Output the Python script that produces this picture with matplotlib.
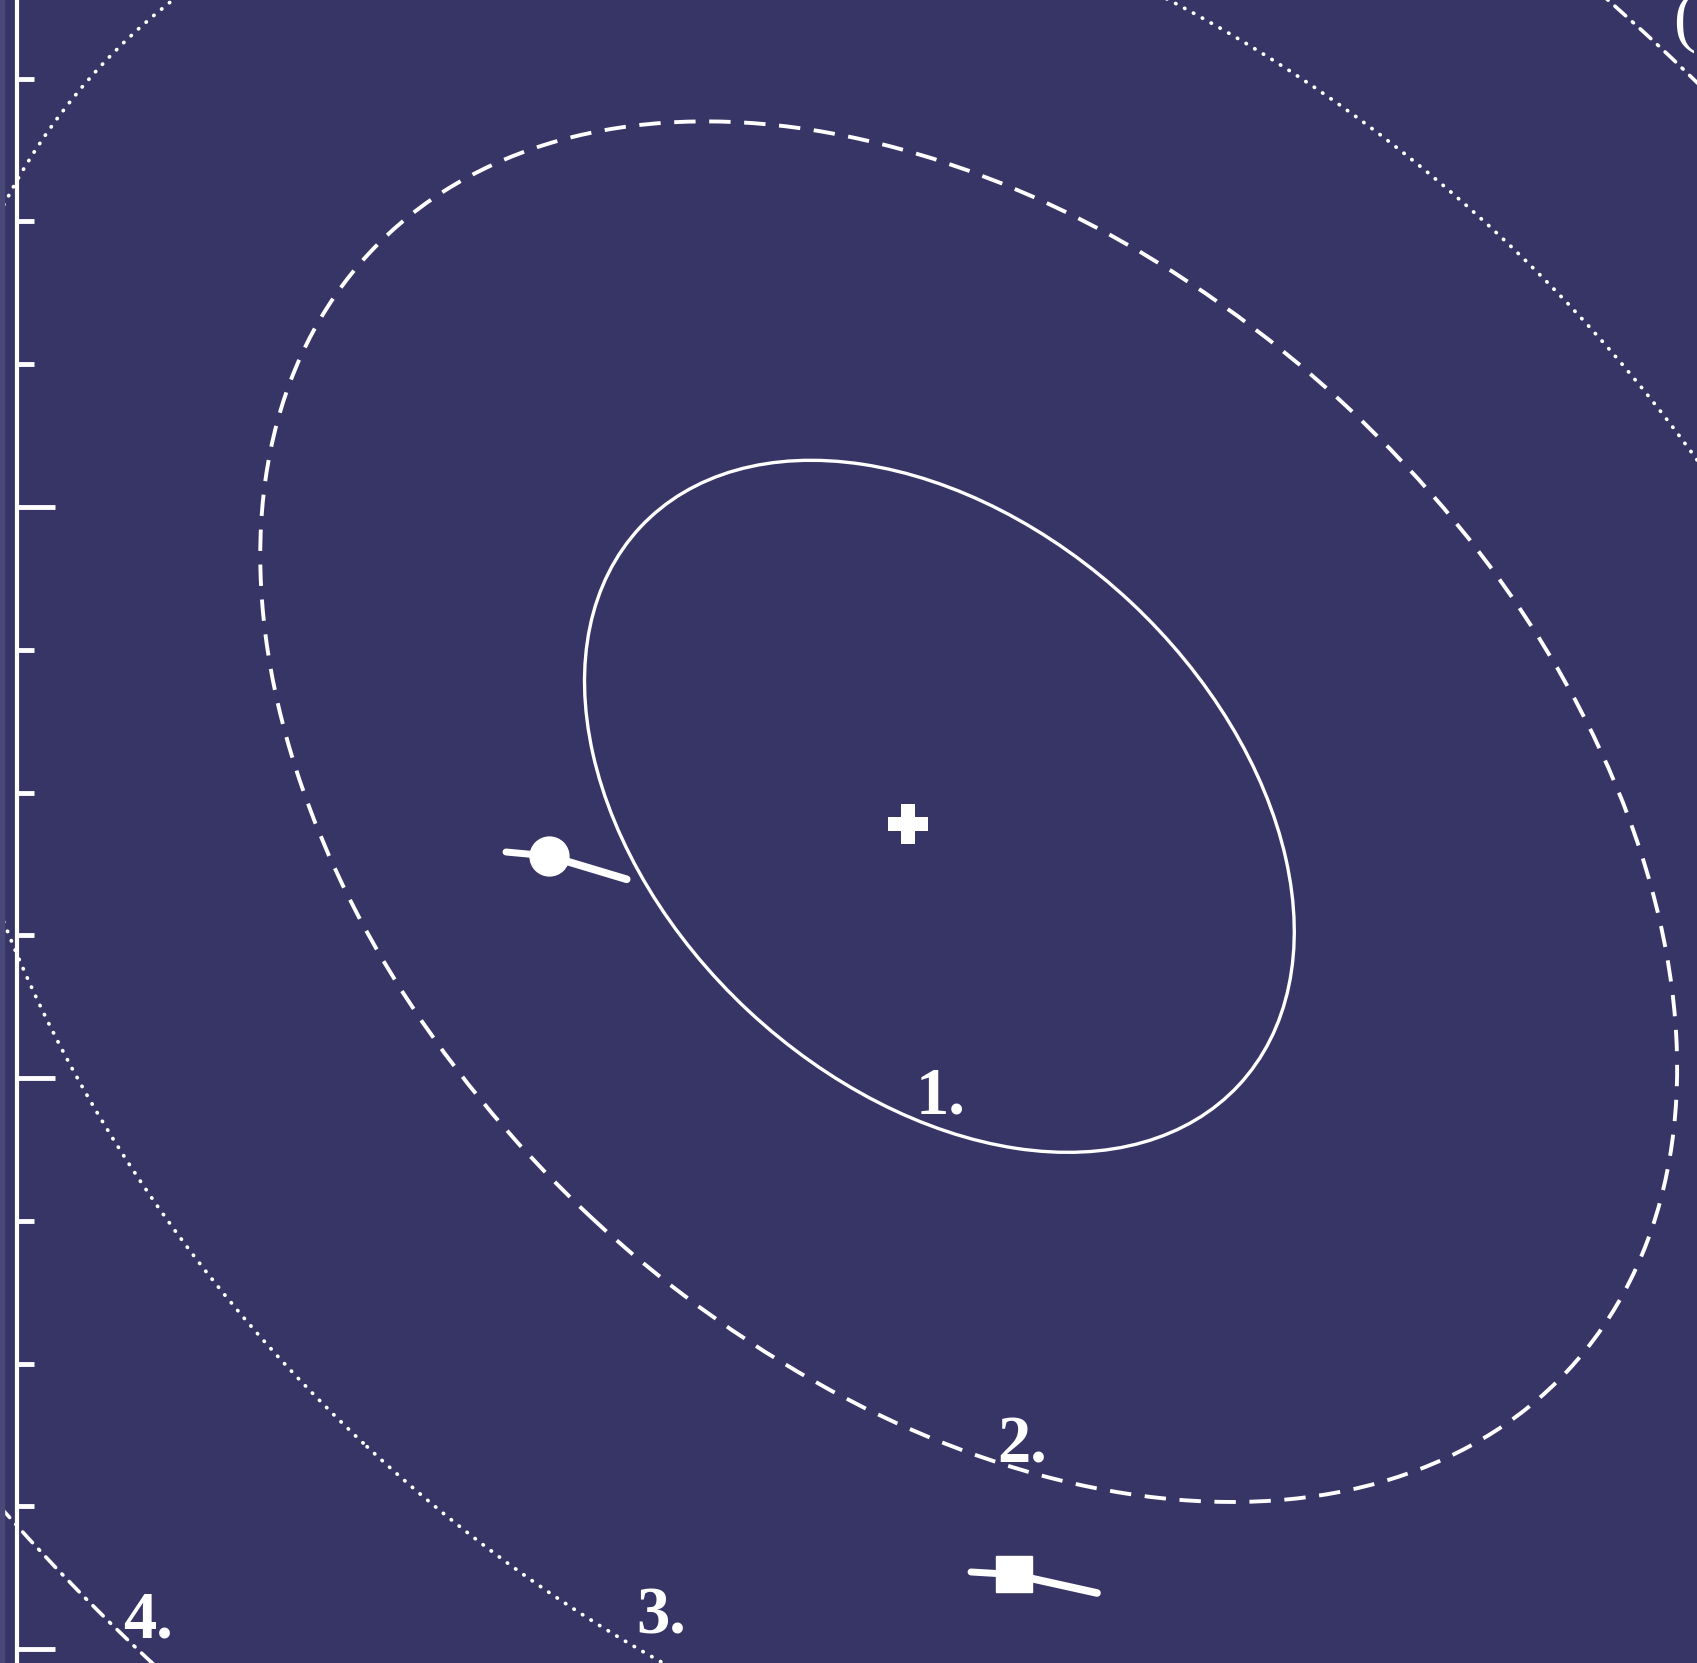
import matplotlib
matplotlib.use("Agg")
import matplotlib.pyplot as plt
from matplotlib.patches import Ellipse, Rectangle

# confidence contours: centre x, centre y, semi-major, semi-minor, tilt (deg)
contour_names = ["1.", "2.", "3.", "4."]
centre_x = [1.6154, 1.6667, 1.6033, 1.5548]
centre_y = [1.4758, 1.4664, 1.4161, 1.3925]
semi_major = [0.7165, 1.4349, 1.9902, 2.7484]
semi_minor = [0.4900, 0.9705, 1.4519, 1.9353]
tilt = [-43, -43, -43, -43]

# where the contour labels sit
label_x = [1.6182, 1.7601, 1.1278, 0.2294]
label_y = [0.9387, 0.3275, 0.0280, 0.0210]

# best fit
best_x, best_y = 1.5596, 1.4457

# the two other solutions with their shift vectors
circle_x = [0.8564, 0.9317, 1.0678]
circle_y = [1.3958, 1.3888, 1.3480]
square_x = [1.6708, 1.7452, 1.8914]
square_y = [0.1349, 0.1305, 0.0981]

bg = "#373566"
ink = "white"

fig = plt.figure(figsize=(16.97, 16.63), dpi=100, facecolor=bg)
ax = fig.add_axes([0, 0, 1, 1])
ax.set_facecolor(bg)
ax.set_xlim(-0.0298, 2.9422)
ax.set_ylim(-0.0245, 2.8879)

styles = [
    dict(linestyle="-", linewidth=2.4),
    dict(linestyle=(0, (5.5, 3.5)), linewidth=2.8),
    dict(linestyle=(0, (0.1, 2.6)), linewidth=2.7),
    dict(linestyle=(0, (4, 2.5, 0.4, 2.5)), linewidth=2.6),
]
for i in range(len(contour_names)):
    e = Ellipse((centre_x[i], centre_y[i]), 2 * semi_major[i], 2 * semi_minor[i],
                angle=tilt[i], fill=False, edgecolor=ink, **styles[i])
    if i >= 2:
        e.set_capstyle("round")
    ax.add_patch(e)
    ax.text(label_x[i], label_y[i], contour_names[i], color=ink, fontsize=48,
            fontweight="bold", family="Liberation Serif", ha="center", va="baseline")

ax.plot(best_x, best_y, marker="P", markersize=29, color=ink, markeredgewidth=0)

ax.plot(circle_x[:2], circle_y[:2], color=ink, linewidth=5, solid_capstyle="round")
ax.plot(circle_x[1:], circle_y[1:], color=ink, linewidth=5.5, solid_capstyle="round")
ax.plot(circle_x[1], circle_y[1], marker="o", markersize=28, color=ink)

ax.plot(square_x[:2], square_y[:2], color=ink, linewidth=5, solid_capstyle="round")
ax.plot(square_x[1:], square_y[1:], color=ink, linewidth=5.5, solid_capstyle="round")
ax.plot(square_x[1], square_y[1], marker="s", markersize=26.5, color=ink)

ax.text(2.9002, 2.8196, "(", color=ink, fontsize=48, family="Liberation Serif",
        ha="left", va="baseline")

# left axis only, ticks pointing inwards
for side in ["top", "right", "bottom"]:
    ax.spines[side].set_visible(False)
ax.spines["left"].set_position(("data", 0))
ax.spines["left"].set_color(ink)
ax.spines["left"].set_linewidth(3)
ax.set_yticks([0, 1, 2])
ax.set_yticks([i * 0.25 for i in range(12)], minor=True)
ax.tick_params(axis="y", which="major", direction="in", length=27, width=3.5,
               color=ink, labelleft=False)
ax.tick_params(axis="y", which="minor", direction="in", length=12, width=3.5,
               color=ink)
ax.set_xticks([])

# strip of the neighbouring panel at the left edge
fig.patches.append(Rectangle((0, 0), 4 / 1697, 1, transform=fig.transFigure,
                             color="#4a4879", zorder=5))

fig.savefig("out.png", dpi=100, facecolor=bg)
